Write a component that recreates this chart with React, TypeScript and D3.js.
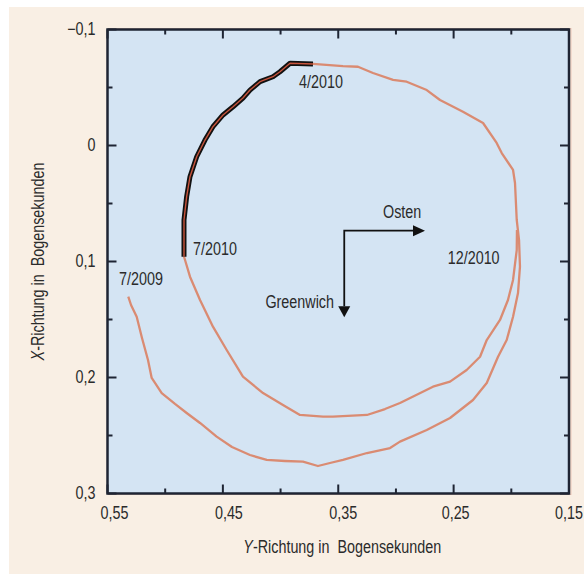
import React from "react";
import * as d3 from "d3";

const W = 584;
const H = 574;

const xTicks = [0.55, 0.45, 0.35, 0.25, 0.15];
const xTickLabels = ["0,55", "0,45", "0,35", "0,25", "0,15"];
const xMinorTicks = [0.5, 0.4, 0.3, 0.2];
const yTicks = [-0.1, 0, 0.1, 0.2, 0.3];
const yTickLabels = ["\u22120,1", "0", "0,1", "0,2", "0,3"];
const yMinorTicks = [-0.05, 0.05, 0.15, 0.25];

// [Y-Richtung, X-Richtung] in Bogensekunden
const track2009: [number, number][] = [
  [0.532, 0.1303], [0.5296, 0.1375], [0.5247, 0.1476], [0.5201, 0.1659], [0.5149, 0.1849],
  [0.5117, 0.2004], [0.503, 0.2134], [0.4915, 0.2228], [0.4814, 0.2306], [0.4698, 0.2392],
  [0.4554, 0.251], [0.4421, 0.2599], [0.4265, 0.2668], [0.412, 0.2711], [0.3962, 0.272],
  [0.3806, 0.2726], [0.3676, 0.2763], [0.3572, 0.2737], [0.3459, 0.2711], [0.3251, 0.2651],
  [0.3051, 0.2608], [0.2965, 0.2553], [0.2733, 0.2453], [0.2531, 0.2349], [0.2332, 0.2194],
  [0.2213, 0.2047], [0.2115, 0.1821], [0.204, 0.1677], [0.1985, 0.1476], [0.1942, 0.1272],
  [0.1925, 0.1045], [0.1933, 0.0815], [0.1953, 0.0642], [0.1968, 0.0323], [0.1985, 0.0211],
  [0.2083, 0.0065], [0.2127, -0.0022], [0.2245, -0.0194], [0.2419, -0.0291], [0.2618, -0.0392],
  [0.2733, -0.0478], [0.2907, -0.055], [0.3025, -0.0565], [0.3199, -0.0625], [0.3329, -0.0679],
  [0.3459, -0.0685], [0.3719, -0.0703],
];

const track2010Highlight: [number, number][] = [
  [0.3719, -0.0703], [0.3918, -0.0709], [0.4005, -0.0636], [0.4066, -0.0593], [0.4178, -0.055],
  [0.4265, -0.0478], [0.4326, -0.0409], [0.4412, -0.0334], [0.4499, -0.0263], [0.4586, -0.0162],
  [0.4655, -0.0047], [0.4727, 0.0097], [0.4785, 0.0269], [0.4814, 0.0441], [0.4837, 0.0642],
  [0.4837, 0.0959],
];

const track2010Late: [number, number][] = [
  [0.4837, 0.0959], [0.4828, 0.0987], [0.4785, 0.1131], [0.4698, 0.1332], [0.4586, 0.1562],
  [0.4467, 0.1763], [0.4326, 0.1993], [0.4152, 0.2134], [0.3979, 0.2237], [0.3832, 0.2323],
  [0.3632, 0.2338], [0.3545, 0.2338], [0.3251, 0.2323], [0.3095, 0.2272], [0.2965, 0.222],
  [0.2679, 0.2079], [0.2531, 0.2036], [0.2387, 0.1935], [0.2271, 0.1821], [0.2213, 0.1677],
  [0.2098, 0.1504], [0.2029, 0.1332], [0.1985, 0.1159], [0.1953, 0.0901], [0.1951, 0.0728],
];

const dateLabels = [
  { text: "4/2010", y: 0.384, x: -0.0547, anchor: "start" },
  { text: "7/2010", y: 0.4759, x: 0.0892, anchor: "start" },
  { text: "7/2009", y: 0.54, x: 0.1151, anchor: "start" },
  { text: "12/2010", y: 0.2551, x: 0.097, anchor: "start" },
  { text: "Osten", y: 0.3112, x: 0.0571, anchor: "start" },
  { text: "Greenwich", y: 0.3537, x: 0.1347, anchor: "end" },
];

const arrowCorner: [number, number] = [0.3448, 0.0734];
const arrowEastTip = 0.2748;
const arrowSouthTip = 0.1481;

const FONT = "'Liberation Sans', Arial, sans-serif";
const TEXT = "#2b2b2b";
const FRAME = "#1e2433";
const SQUEEZE = 0.82;

type TProps = {
  x: number;
  y: number;
  anchor?: string;
  rotate?: boolean;
  size?: number;
  children: React.ReactNode;
};

function T({ x, y, anchor = "start", rotate = false, size = 17.5, children }: TProps) {
  return (
    <g transform={`translate(${x},${y})${rotate ? " rotate(-90)" : ""} scale(${SQUEEZE},1)`}>
      <text textAnchor={anchor} dy="0.36em" fontSize={size} fill={TEXT}>
        {children}
      </text>
    </g>
  );
}

export default function App() {
  const left = 107.5, right = 569, top = 29.5, bottom = 493.5;
  const x = d3.scaleLinear().domain([0.55, 0.15]).range([left, right]);
  const y = d3.scaleLinear().domain([-0.1, 0.3]).range([top, bottom]);
  const line = d3
    .line<[number, number]>()
    .x((d) => x(d[0]))
    .y((d) => y(d[1]));

  const cx = x(arrowCorner[0]);
  const cy = y(arrowCorner[1]);
  const ex = x(arrowEastTip);
  const sy = y(arrowSouthTip);

  const majorLen = 9;
  const minorLen = 5;
  const xLabelShift = [7, 6, 5, 2, 0];

  return (
    <svg
      width={W}
      height={H}
      style={{ position: "absolute", left: 0, top: 0 }}
      fontFamily={FONT}
    >
      <rect x={0} y={0} width={W} height={H} fill="#ffffff" />
      <rect x={9} y={7} width={W - 9} height={H - 7} fill="#f9efe4" />
      <rect
        x={left + 1}
        y={top - 1}
        width={right - left + 1}
        height={bottom - top + 2}
        fill="none"
        stroke="#efc9b9"
        strokeWidth={1}
      />
      <rect x={left} y={top} width={right - left} height={bottom - top} fill="#d4e4f3" />

      {/* ticks */}
      <g stroke={FRAME} strokeWidth={2}>
        {xTicks.map((t) => (
          <g key={"xt" + t}>
            <line x1={x(t)} x2={x(t)} y1={bottom} y2={bottom - majorLen} />
            <line x1={x(t)} x2={x(t)} y1={top} y2={top + majorLen} />
          </g>
        ))}
        {xMinorTicks.map((t) => (
          <g key={"xm" + t}>
            <line x1={x(t)} x2={x(t)} y1={bottom} y2={bottom - minorLen} />
            <line x1={x(t)} x2={x(t)} y1={top} y2={top + minorLen} />
          </g>
        ))}
        {yTicks.map((t) => (
          <g key={"yt" + t}>
            <line x1={left} x2={left + majorLen} y1={y(t)} y2={y(t)} />
            <line x1={right} x2={right - majorLen} y1={y(t)} y2={y(t)} />
          </g>
        ))}
        {yMinorTicks.map((t) => (
          <g key={"ym" + t}>
            <line x1={left} x2={left + minorLen} y1={y(t)} y2={y(t)} />
            <line x1={right} x2={right - minorLen} y1={y(t)} y2={y(t)} />
          </g>
        ))}
      </g>

      {/* data */}
      <path d={line(track2009) || ""} fill="none" stroke="#da8b72" strokeWidth={2.3} strokeLinejoin="round" />
      <path d={line(track2010Late) || ""} fill="none" stroke="#da8b72" strokeWidth={2.3} strokeLinejoin="round" />
      <path d={line(track2010Highlight) || ""} fill="none" stroke="#111111" strokeWidth={5} strokeLinejoin="round" />
      <path d={line(track2010Highlight) || ""} fill="none" stroke="#c8543c" strokeWidth={1.4} strokeLinejoin="round" />

      {/* arrows */}
      <g stroke="#111" strokeWidth={1.8} fill="none">
        <polyline points={`${ex - 12},${cy} ${cx},${cy} ${cx},${sy - 11}`} />
      </g>
      <path d={`M${ex},${cy} L${ex - 12},${cy - 5.5} L${ex - 12},${cy + 5.5} Z`} fill="#111" />
      <path d={`M${cx},${sy} L${cx - 6},${sy - 11} L${cx + 6},${sy - 11} Z`} fill="#111" />

      {/* annotations */}
      {dateLabels.map((l) => (
        <T key={l.text} x={x(l.y)} y={y(l.x)} anchor={l.anchor}>
          {l.text}
        </T>
      ))}

      {/* frame */}
      <rect x={left} y={top} width={right - left} height={bottom - top} fill="none" stroke={FRAME} strokeWidth={2.5} />

      {/* tick labels */}
      {xTicks.map((t, i) => (
        <T key={"xl" + t} x={x(t) + xLabelShift[i]} y={bottom + 19} anchor="middle">
          {xTickLabels[i]}
        </T>
      ))}
      {yTicks.map((t, i) => (
        <T key={"yl" + t} x={left - 12} y={y(t) - 1} anchor="end">
          {yTickLabels[i]}
        </T>
      ))}

      {/* axis titles */}
      <T x={(left + right) / 2 + 4} y={547} anchor="middle">
        <tspan fontStyle="italic">Y</tspan>-Richtung in{"\u00a0"} Bogensekunden
      </T>
      <T x={38} y={(top + bottom) / 2} anchor="middle" rotate>
        <tspan fontStyle="italic">X</tspan>-Richtung in{"\u00a0"} Bogensekunden
      </T>
    </svg>
  );
}
